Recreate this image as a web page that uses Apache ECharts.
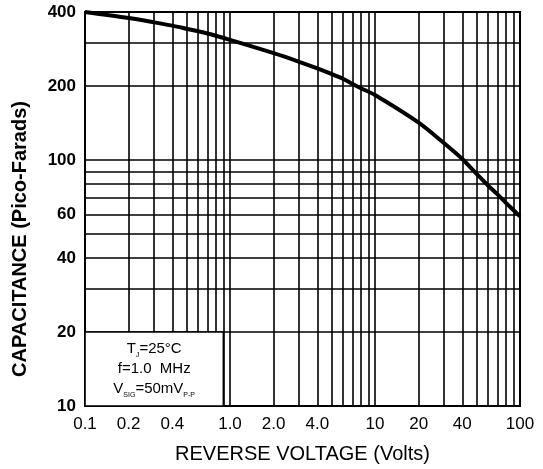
<!DOCTYPE html>
<html>
<head>
<meta charset="utf-8">
<script src="https://cdn.jsdelivr.net/npm/echarts@6/dist/echarts.min.js"></script>
<style>
  html, body { margin: 0; padding: 0; background: #fff; }
  #chart { width: 543px; height: 469px; }
</style>
</head>
<body>
<div id="chart"></div>
<script>
// curve
var voltage = [0.1, 0.2, 0.3, 0.4, 0.5, 0.7, 1, 2, 3, 4, 5, 6, 7, 8, 10, 20, 30, 40, 50, 60, 70, 80, 100];
var capacitance = [400, 378, 363, 352, 342, 327, 308, 272, 251, 236, 224, 214, 204, 196, 184, 142, 117, 101, 88, 79, 72.5, 67, 59];

// grid lines and tick labels
var xGrid = [0.1, 0.2, 0.3, 0.4, 0.5, 0.6, 0.7, 0.8, 0.9,
             1, 2, 3, 4, 5, 6, 7, 8, 9,
             10, 20, 30, 40, 50, 60, 70, 80, 90, 100];
var xTickValues = [0.1, 0.2, 0.4, 1, 2, 4, 10, 20, 40, 100];
var xTickLabels = ['0.1', '0.2', '0.4', '1.0', '2.0', '4.0', '10', '20', '40', '100'];
var yGrid = [10, 20, 30, 40, 50, 60, 70, 80, 90, 100, 200, 300, 400];
var yTickValues = [10, 20, 40, 60, 100, 200, 400];

// conditions box (blank area of the grid)
var boxFrom = [0.1, 10];
var boxTo = [0.9, 20];

function labelFor(values, labels, v) {
  var best = 0;
  for (var i = 0; i < values.length; i++) {
    if (Math.abs(Math.log10(values[i]) - Math.log10(v)) < Math.abs(Math.log10(values[best]) - Math.log10(v))) best = i;
  }
  return labels[best];
}

var myChart = echarts.init(document.getElementById('chart'), null, { renderer: 'canvas' });

var gridLine = { color: '#000', width: 1.6 };

var option = {
  animation: false,
  backgroundColor: '#fff',
  textStyle: { fontFamily: 'Liberation Sans' },
  grid: {
    left: 85, right: 23, top: 12, bottom: 59,
    show: true, borderColor: '#000', borderWidth: 2
  },
  xAxis: {
    type: 'log',
    logBase: 10,
    min: 0.1,
    max: 100,
    name: 'REVERSE VOLTAGE (Volts)',
    nameLocation: 'middle',
    nameGap: 38,
    nameTextStyle: { fontSize: 20, color: '#000' },
    axisLine: { show: true, lineStyle: { color: '#000', width: 2 } },
    axisTick: { show: false, customValues: xGrid },
    minorTick: { show: false },
    splitLine: { show: true, lineStyle: gridLine },
    axisLabel: {
      customValues: xTickValues,
      margin: 10,
      fontSize: 17,
      color: '#000',
      formatter: function (v) { return labelFor(xTickValues, xTickLabels, v); }
    }
  },
  yAxis: {
    type: 'log',
    logBase: 10,
    min: 10,
    max: 400,
    name: 'CAPACITANCE (Pico-Farads)',
    nameLocation: 'middle',
    nameGap: 55,
    nameTextStyle: { fontSize: 20, fontWeight: 'bold', color: '#000', padding: [0, 60, 0, 0] },
    axisLine: { show: true, lineStyle: { color: '#000', width: 2 } },
    axisTick: { show: false, customValues: yGrid },
    minorTick: { show: false },
    splitLine: { show: true, lineStyle: gridLine },
    axisLabel: {
      customValues: yTickValues,
      margin: 9,
      fontSize: 17,
      fontWeight: 'bold',
      color: '#000',
      formatter: function (v) { return String(Math.round(v)); }
    }
  },
  series: [
    {
      type: 'line',
      data: voltage.map(function (v, i) { return [v, capacitance[i]]; }),
      smooth: 0.3,
      symbol: 'none',
      lineStyle: { color: '#000', width: 4 },
      markArea: {
        silent: true,
        itemStyle: { color: '#fff', opacity: 1, borderColor: '#000', borderWidth: 1.6 },
        label: {
          show: true,
          position: 'inside',
          align: 'center',
          verticalAlign: 'middle',
          formatter: '{n|T}{s|J}{n|=25°C}\n{n|f=1.0  MHz}\n{n|V}{s|SIG}{n|=50mV}{s|P-P}',
          rich: {
            n: { fontSize: 15, color: '#000', lineHeight: 20, fontFamily: 'Liberation Sans' },
            s: { fontSize: 7, color: '#000', lineHeight: 12, verticalAlign: 'bottom', fontFamily: 'Liberation Sans' }
          }
        },
        data: [[{ coord: boxFrom }, { coord: boxTo }]]
      }
    }
  ]
};

if (option && typeof option === 'object') {
  myChart.setOption(option);
}

window.addEventListener('resize', myChart.resize);
</script>
</body>
</html>
